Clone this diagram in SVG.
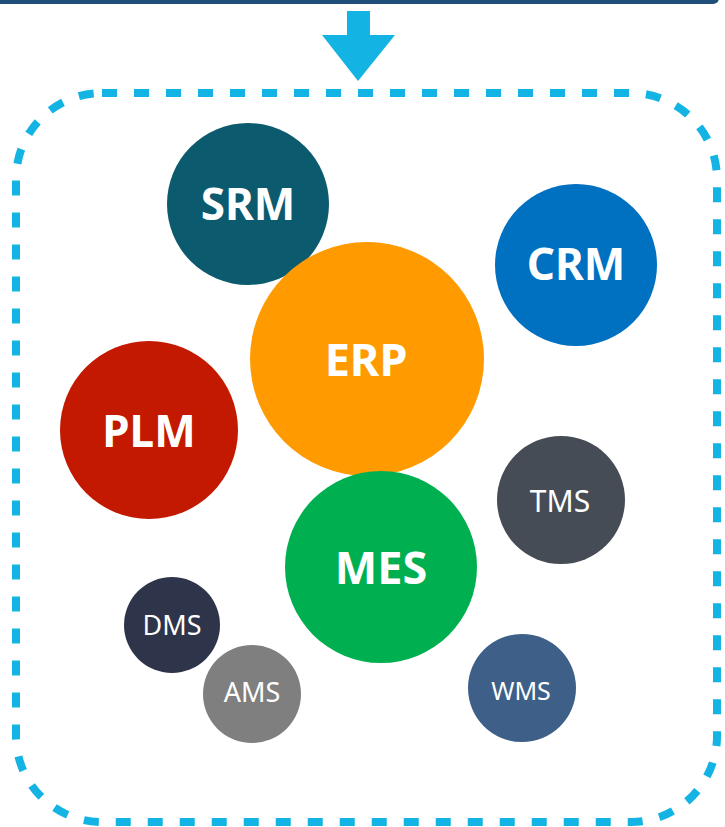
<svg xmlns="http://www.w3.org/2000/svg" width="725" height="827" viewBox="0 0 725 827">
<style>
.b{font-family:"Noto Sans","Open Sans","Liberation Sans",sans-serif;font-weight:bold;fill:#fff;text-anchor:middle}
.n{font-family:"Noto Sans","Open Sans","Liberation Sans",sans-serif;font-weight:normal;fill:#fff;text-anchor:middle}
</style>
<rect width="725" height="827" fill="#fff"/>
<rect x="-10" y="-20" width="729" height="24" rx="6" fill="#1f4e79"/>
<g id="connectors">
<polygon points="347,11 370,11 370,35 395,35 358,81 322,35 347,35" fill="#13b4e3"/>
</g>
<rect x="16" y="93" width="701" height="729" rx="86" fill="none" stroke="#13b4e3" stroke-width="8" stroke-dasharray="15 17"/>
<g id="SRM"><circle cx="248" cy="204" r="81" fill="#0b5a6e"/><text class="b" x="248" y="220" font-size="44">SRM</text></g>
<g id="CRM"><circle cx="576" cy="265" r="81" fill="#0070c0"/><text class="b" x="576" y="280" font-size="44">CRM</text></g>
<g id="ERP"><circle cx="367" cy="359" r="117" fill="#ff9a00"/><text class="b" x="366" y="376" font-size="45">ERP</text></g>
<g id="PLM"><circle cx="149" cy="430" r="89" fill="#c21900"/><text class="b" x="149" y="447" font-size="44">PLM</text></g>
<g id="TMS"><circle cx="561" cy="500" r="64" fill="#454c55"/><text class="n" x="560" y="512" font-size="30">TMS</text></g>
<g id="MES"><circle cx="381" cy="567" r="96" fill="#00b050"/><text class="b" x="381" y="584" font-size="45">MES</text></g>
<g id="DMS"><circle cx="172" cy="625" r="48" fill="#2e3449"/><text class="n" x="172" y="635" font-size="27">DMS</text></g>
<g id="AMS"><circle cx="252" cy="694" r="49" fill="#7f7f7f"/><text class="n" x="252" y="702" font-size="27">AMS</text></g>
<g id="WMS"><circle cx="522" cy="688" r="54" fill="#3e5f87"/><text class="n" x="521" y="700" font-size="25">WMS</text></g>
</svg>
